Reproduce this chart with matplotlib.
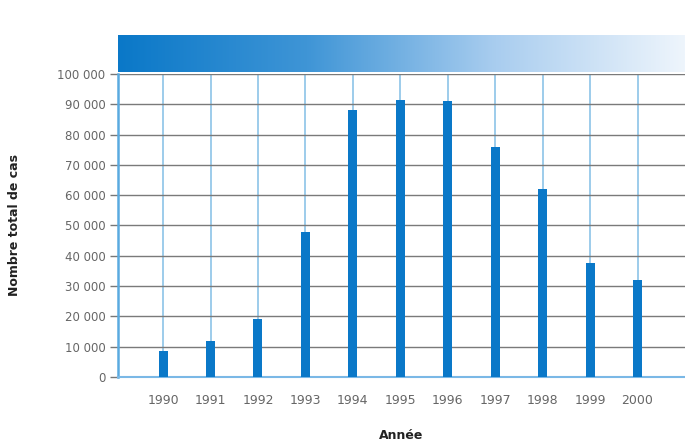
import numpy as np
import matplotlib
matplotlib.use("Agg")
import matplotlib.pyplot as plt
from matplotlib.colors import LinearSegmentedColormap

years = ["1990", "1991", "1992", "1993", "1994", "1995", "1996", "1997", "1998", "1999", "2000"]
cases = [8500, 12000, 19000, 48000, 88000, 91500, 91000, 76000, 62000, 37500, 32000]
yticks = [0, 10000, 20000, 30000, 40000, 50000, 60000, 70000, 80000, 90000, 100000]
ytick_labels = ["0", "10 000", "20 000", "30 000", "40 000", "50 000", "60 000",
                "70 000", "80 000", "90 000", "100 000"]

W, H = 685, 444
fig = plt.figure(figsize=(W / 100, H / 100), dpi=100)
fig.patch.set_facecolor("white")

ax = fig.add_axes([118 / W, 1 - 377 / H, 1 - 118 / W, (377 - 74) / H])
x = np.arange(len(years))
ax.bar(x, cases, width=0.19, color="#0a78c8", zorder=3)
ax.set_xlim(-0.95, 11.0)
ax.set_ylim(0, 100000)
ax.set_yticks(yticks)
ax.set_yticklabels(ytick_labels)
ax.set_xticks(x)
ax.set_xticklabels(years)
ax.tick_params(axis="y", length=6, width=1, color="#777777", labelsize=8.5,
               labelcolor="#666666", pad=3)
ax.tick_params(axis="x", length=0, labelsize=9, labelcolor="#666666", pad=12)
ax.grid(axis="y", color="#7a7a7a", linewidth=1.0, zorder=1)
for xi in x:
    ax.axvline(xi, color="#8cc3e8", linewidth=1.2, zorder=1)
for s in ["top", "right"]:
    ax.spines[s].set_visible(False)
ax.spines["left"].set_color("#5aaae0")
ax.spines["left"].set_linewidth(1.8)
ax.spines["bottom"].set_color("#7ab8e6")
ax.spines["bottom"].set_linewidth(1.5)

# gradient header band
bax = fig.add_axes([118 / W, 1 - 72 / H, 1 - 118 / W, 37 / H])
cmap = LinearSegmentedColormap.from_list("band", ["#0a78c8", "#3f95d6", "#a9cdef", "#eef5fc"])
grad = np.linspace(0, 1, 256).reshape(1, -1)
bax.imshow(grad, aspect="auto", cmap=cmap, extent=[0, 1, 0, 1])
bax.set_axis_off()

fig.text(15 / W, 1 - 225 / H, "Nombre total de cas", rotation=90, ha="center", va="center",
         fontsize=9, fontweight="bold", color="#222222")
fig.text(401 / W, 1 - 435 / H, "Année", ha="center", va="center",
         fontsize=9, fontweight="bold", color="#222222")

fig.savefig("out.png", dpi=100, facecolor="white")
